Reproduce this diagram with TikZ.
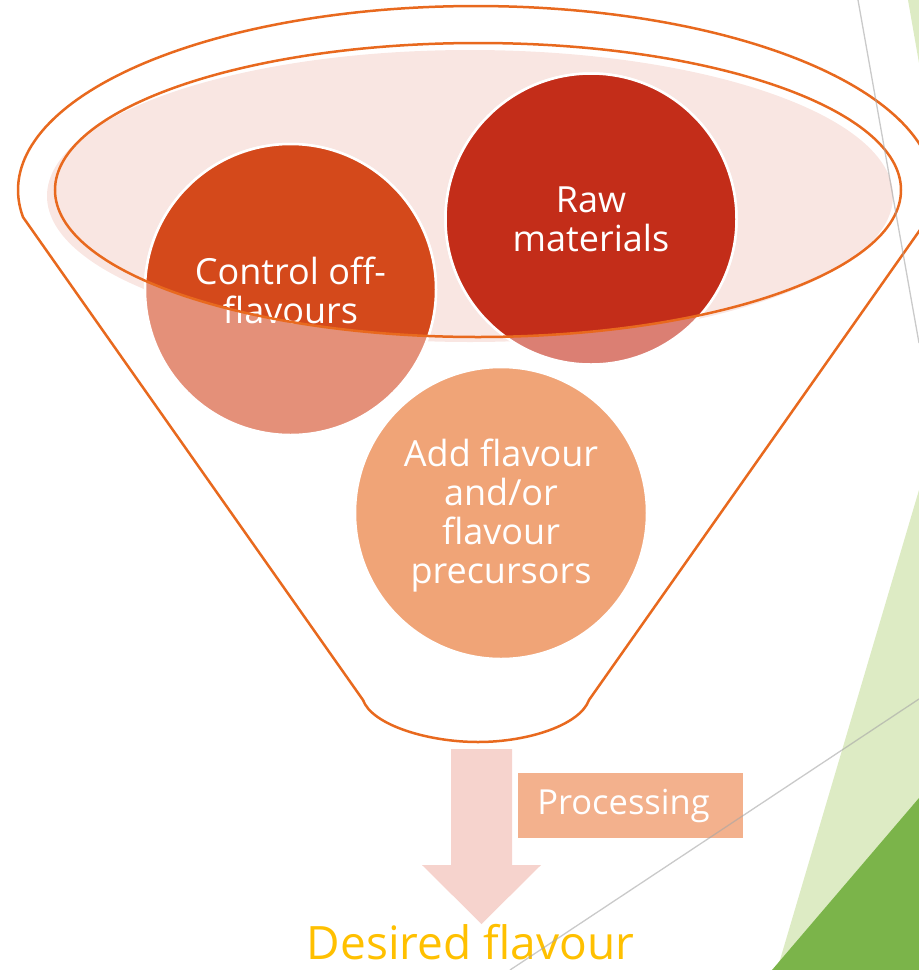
\documentclass[tikz,border=0pt]{standalone}
\usepackage{fontspec}
\setmainfont{Open Sans}
\begin{document}
\begin{tikzpicture}[x=1pt,y=-1pt,
  funnelline/.style={draw=funnelor, line width=2.5pt},
  bubble/.style={circle, inner sep=0pt, minimum size=291pt, draw=white, line width=2.5pt},
  bubbletext/.style={text=white, align=center, inner sep=0pt, font=\fontsize{36}{39}\selectfont},
  greyline/.style={draw=black!35, line width=1.3pt, opacity=0.6}]
\definecolor{funnelor}{HTML}{E8691E}
\definecolor{palepink}{HTML}{F9E6E2}
\definecolor{ctrldark}{HTML}{D4491B}
\definecolor{ctrllight}{HTML}{E49079}
\definecolor{rawdark}{HTML}{C32D19}
\definecolor{rawlight}{HTML}{DB7F73}
\definecolor{addcol}{HTML}{F0A477}
\definecolor{arrowcol}{HTML}{F6D3CD}
\definecolor{proccol}{HTML}{F3B18D}
\definecolor{desiredcol}{HTML}{FFC000}
\definecolor{lightgreen}{HTML}{DDEBC4}
\definecolor{darkgreen}{HTML}{7BB44A}
\useasboundingbox (0,0) rectangle (919,970);
\clip (0,0) rectangle (919,970);
% background decoration
\fill[lightgreen] (919,490) -- (777,970) -- (919,970) -- cycle;
\fill[lightgreen] (908,0) -- (919,0) -- (919,63) -- cycle;
\fill[darkgreen] (919,798) -- (772,970) -- (919,970) -- cycle;
% pale ellipse
\fill[palepink] (470,196) ellipse [x radius=423, y radius=146];
% circles (light parts)
\node[bubble, fill=ctrllight] (ctrl) at (290.5,289.5) {};
\node[bubble, fill=rawlight] (raw) at (591,219) {};
\node[bubble, fill=addcol, minimum size=292pt] (add) at (501,513) {};
% dark parts inside the inner ellipse
\begin{scope}
  \clip (478,190) ellipse [x radius=423, y radius=147];
  \node[bubble, fill=ctrldark] (ctrlin) at (290.5,289.5) {};
  \node[bubble, fill=rawdark] (rawin) at (591,219) {};
\end{scope}
% texts
\node[bubbletext] (ctrltxt) at (290.5,290) {Control off-\\flavours};
\node[bubbletext] (rawtxt) at (591,219) {Raw\\materials};
\node[bubbletext] (addtxt) at (501,516) {Add flavour\\and/or\\flavour\\precursors};
% funnel outline
\draw[funnelline] plot[domain=171.5:368.5, samples=140] ({476+458*cos(\x)},{190+184*sin(\x)})
  -- (589,700) .. controls (580,725) and (528,742) .. (478,742)
  .. controls (428,742) and (372,725) .. (363,700) -- cycle;
\draw[funnelline] (478,190) ellipse [x radius=423, y radius=147];
% arrow
\fill[arrowcol] (451,749) -- (512,749) -- (512,865) -- (541,865) -- (481.5,924)
  -- (422,865) -- (451,865) -- cycle;
% processing box
\node[fill=proccol, minimum width=225pt, minimum height=65pt, inner sep=0pt,
  text=white, font=\fontsize{34.5}{39}\selectfont] (proc) at (630.5,805.5) {\hspace*{-14pt}Processing};
% desired flavour
\node[anchor=base, inner sep=0pt, text=desiredcol, font=\fontsize{46}{50}\selectfont]
  (desired) at (470.5,959) {Desired flavour};
% grey lines
\draw[greyline] (858,0) -- (919,343);
\draw[greyline] (510,970) -- (919,699);
\end{tikzpicture}
\end{document}
